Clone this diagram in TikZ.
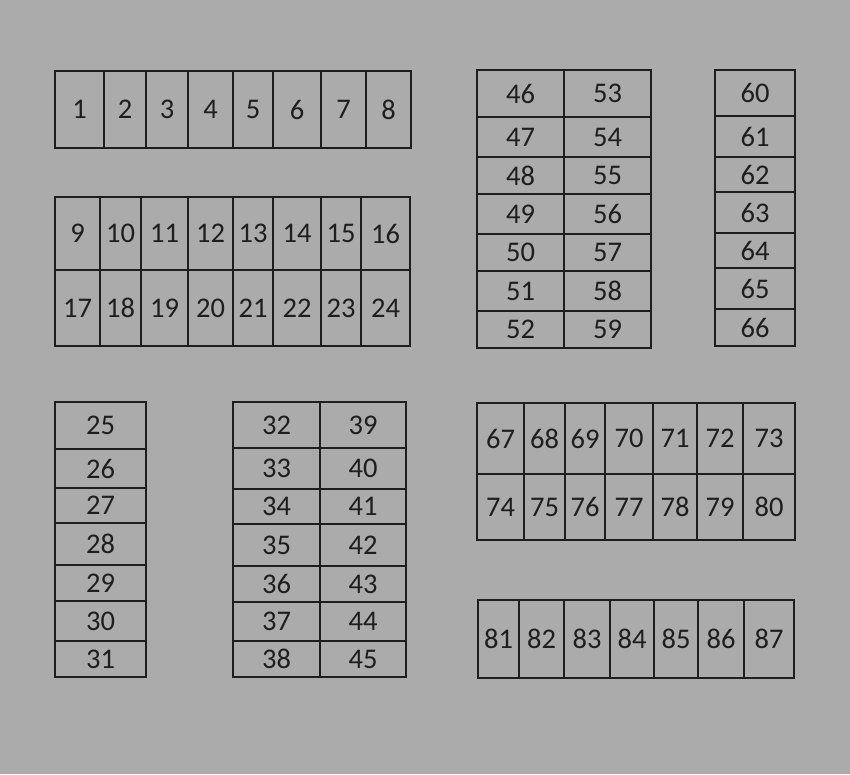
\documentclass[tikz,border=0pt]{standalone}
\usepackage{fontspec}
\setmainfont{Carlito}
\definecolor{paper}{HTML}{ABABAB}
\definecolor{ink}{HTML}{1E1E1E}

% one row of cells: x-borders, top, bottom, first number
\newcommand{\cellrow}[5]{%
  \foreach \x [remember=\x as \lastx (initially #1), count=\i] in {#2} {
    \pgfmathtruncatemacro{\n}{#5+\i-1}
    \node[cell, minimum width=\x pt-\lastx pt, minimum height=#4pt-#3pt]
      (c\n) at ({(\x+\lastx)/2},{(#3+#4)/2}) {\n};
  }%
}
% one column of cells: left, right, y-borders, first number
\newcommand{\cellcol}[5]{%
  \foreach \y [remember=\y as \lasty (initially #3), count=\i] in {#4} {
    \pgfmathtruncatemacro{\n}{#5+\i-1}
    \node[cell, minimum width=#2pt-#1pt, minimum height=\y pt-\lasty pt]
      (c\n) at ({(#1+#2)/2},{(\y+\lasty)/2}) {\n};
  }%
}

\begin{document}
\begin{tikzpicture}[x=1pt,y=-1pt,
    cell/.style={draw=ink,line width=1.2pt,inner sep=0pt,text=ink,
      font=\fontsize{28.5}{32}\selectfont}]
  \fill[paper] (0,0) rectangle (850,774);
  \useasboundingbox (0,0) rectangle (850,774);

  % upper left
  \cellrow{55}{104,146,188,233,273,321,366,411}{71}{148}{1}
  \cellrow{55}{100,141,188,233,273,321,361,410}{197}{270}{9}
  \cellrow{55}{100,141,188,233,273,321,361,410}{270}{346}{17}

  % upper right
  \cellcol{477}{564}{70}{117,157,194,234,271,311,348}{46}
  \cellcol{564}{651}{70}{117,157,194,234,271,311,348}{53}
  \cellcol{715}{795}{70}{116,157,192,233,268,309,346}{60}

  % lower left
  \cellcol{55}{146}{402}{449,488,523,565,601,641,677}{25}
  \cellcol{233}{320}{402}{448,489,524,566,602,641,677}{32}
  \cellcol{320}{406}{402}{448,489,524,566,602,641,677}{39}

  % lower right
  \cellrow{477}{524,565,605,653,697,743,795}{403}{474}{67}
  \cellrow{477}{524,565,605,653,697,743,795}{474}{540}{74}
  \cellrow{478}{519,564,610,654,698,744,794}{600}{678}{81}
\end{tikzpicture}
\end{document}
